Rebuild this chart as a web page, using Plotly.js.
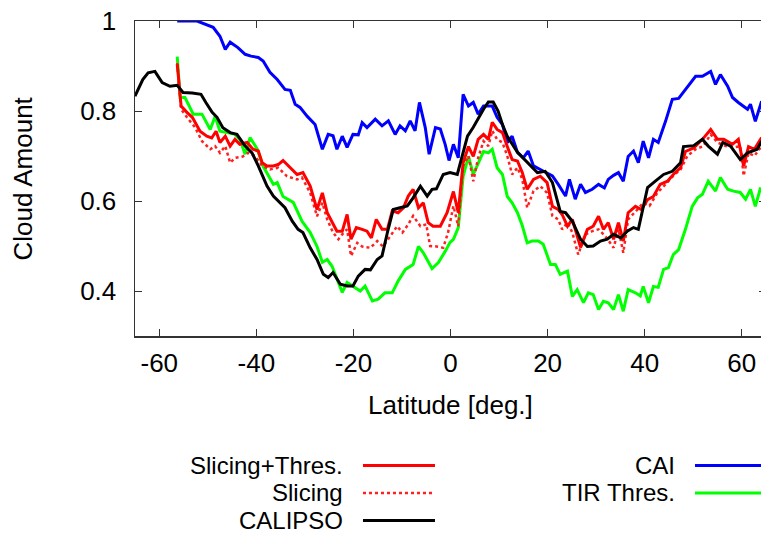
<!DOCTYPE html>
<html>
<head>
<meta charset="utf-8">
<script src="https://cdn.plot.ly/plotly-3.0.1.min.js"></script>
<style>
html, body { margin: 0; padding: 0; overflow: hidden; background: #fff; }
#chart { width: 780px; height: 536px; }
</style>
</head>
<body>
<div id="chart"></div>
<script>
// CALIPSO (black)
const calipsoLat = [-65, -63.4, -62.3, -60.9, -59.4, -57.8, -56.3, -55.1, -53.2, -51.4, -50.4, -49.1, -48.1, -46.9, -45.4, -44.0, -42.3, -40.9, -39.6, -37.8, -36.5, -35.5, -34.1, -32.6, -31.4, -30.4, -28.9, -27.5, -26.2, -25.2, -24.2, -22.7, -21.3, -20.1, -19.0, -17.6, -16.5, -15.1, -14.1, -13.0, -11.8, -10.4, -8.9, -7.7, -6.2, -4.8, -3.8, -2.9, -1.5, -0.1, 1.4, 3.5, 4.7, 6.8, 7.8, 8.8, 9.8, 10.7, 11.7, 13.8, 15.8, 17.9, 19.5, 21.0, 22.6, 23.7, 25.1, 26.8, 28.2, 29.4, 30.9, 32.3, 33.6, 35.1, 36.4, 37.7, 38.7, 40.6, 42.2, 43.9, 45.7, 47.4, 48.0, 50.1, 51.9, 53.1, 55.0, 56.1, 57.7, 59.7, 61.2, 63.2, 64.1];
const calipsoVal = [0.833, 0.870, 0.885, 0.888, 0.863, 0.855, 0.857, 0.841, 0.840, 0.837, 0.819, 0.797, 0.786, 0.763, 0.752, 0.748, 0.722, 0.707, 0.678, 0.633, 0.611, 0.600, 0.585, 0.555, 0.537, 0.530, 0.496, 0.470, 0.437, 0.430, 0.441, 0.415, 0.411, 0.411, 0.433, 0.448, 0.447, 0.470, 0.478, 0.530, 0.581, 0.585, 0.589, 0.607, 0.633, 0.611, 0.626, 0.627, 0.659, 0.663, 0.659, 0.744, 0.764, 0.804, 0.820, 0.820, 0.800, 0.770, 0.744, 0.708, 0.685, 0.663, 0.666, 0.641, 0.577, 0.574, 0.555, 0.515, 0.499, 0.500, 0.511, 0.515, 0.526, 0.518, 0.533, 0.541, 0.537, 0.630, 0.644, 0.659, 0.666, 0.685, 0.721, 0.723, 0.737, 0.722, 0.704, 0.730, 0.722, 0.692, 0.707, 0.715, 0.733];

// CAI (blue)
const caiLat = [-56.3, -52.2, -48.9, -47.5, -46.4, -45.4, -43.8, -42.3, -41.1, -39.6, -38.6, -37.2, -35.7, -34.1, -33.0, -32.0, -31.0, -29.5, -27.9, -26.4, -25.2, -24.2, -23.4, -22.3, -21.3, -20.1, -19.0, -18.2, -17.2, -15.5, -14.1, -12.8, -11.4, -10.4, -9.3, -8.3, -7.3, -6.4, -5.2, -4.4, -3.1, -2.1, -1.1, -0.3, 0.6, 1.6, 2.6, 3.7, 4.7, 5.7, 6.8, 8.6, 9.6, 10.7, 11.7, 12.7, 13.8, 15.0, 16.0, 17.1, 18.5, 19.9, 21.0, 22.2, 23.7, 24.5, 25.7, 26.8, 27.8, 29.2, 30.5, 31.7, 32.5, 33.6, 34.6, 35.6, 36.6, 37.7, 38.7, 39.7, 40.8, 41.8, 42.8, 44.3, 45.7, 47.0, 48.4, 50.5, 51.9, 53.6, 54.6, 55.6, 57.1, 58.1, 59.3, 61.2, 61.8, 62.8, 64.1];
const caiVal = [1.0, 1.0, 0.986, 0.966, 0.937, 0.953, 0.941, 0.926, 0.922, 0.919, 0.911, 0.886, 0.870, 0.848, 0.846, 0.815, 0.808, 0.788, 0.770, 0.715, 0.748, 0.745, 0.715, 0.744, 0.719, 0.748, 0.747, 0.774, 0.763, 0.782, 0.767, 0.778, 0.748, 0.767, 0.756, 0.778, 0.756, 0.819, 0.763, 0.704, 0.763, 0.760, 0.726, 0.690, 0.726, 0.696, 0.837, 0.811, 0.819, 0.793, 0.811, 0.811, 0.786, 0.770, 0.730, 0.744, 0.708, 0.696, 0.711, 0.678, 0.670, 0.663, 0.656, 0.637, 0.611, 0.648, 0.604, 0.637, 0.619, 0.626, 0.637, 0.629, 0.648, 0.657, 0.663, 0.644, 0.699, 0.711, 0.685, 0.733, 0.696, 0.737, 0.730, 0.777, 0.826, 0.828, 0.848, 0.877, 0.877, 0.888, 0.859, 0.881, 0.855, 0.830, 0.819, 0.804, 0.815, 0.777, 0.822];

// TIR Thres. (green)
const tirLat = [-56.3, -55.7, -54.7, -53.0, -51.2, -49.5, -48.5, -47.5, -46.0, -44.4, -43.4, -42.3, -41.3, -39.8, -38.6, -37.6, -36.5, -35.7, -34.5, -32.4, -30.6, -28.9, -27.5, -26.4, -25.4, -24.4, -23.4, -22.3, -21.3, -20.1, -18.6, -17.6, -16.1, -14.9, -13.5, -12.0, -10.8, -9.3, -7.7, -6.6, -5.6, -3.8, -2.5, -1.1, -0.1, 0.6, 1.6, 2.6, 3.7, 4.7, 5.7, 6.8, 7.8, 8.6, 9.6, 10.7, 11.7, 12.7, 13.8, 14.8, 15.8, 16.8, 18.1, 19.1, 20.6, 21.6, 22.6, 24.1, 25.1, 26.1, 27.4, 28.4, 29.4, 30.5, 31.5, 32.5, 33.6, 34.6, 35.6, 36.6, 38.1, 39.1, 39.7, 40.8, 41.8, 42.8, 43.9, 44.9, 45.9, 47.0, 48.4, 49.8, 50.9, 51.9, 53.1, 54.6, 55.6, 57.1, 58.3, 59.7, 60.8, 61.8, 62.8, 63.9];
const tirVal = [0.921, 0.830, 0.830, 0.793, 0.793, 0.759, 0.788, 0.755, 0.752, 0.748, 0.737, 0.704, 0.741, 0.715, 0.677, 0.659, 0.637, 0.641, 0.610, 0.597, 0.555, 0.530, 0.499, 0.464, 0.470, 0.455, 0.426, 0.397, 0.419, 0.411, 0.400, 0.411, 0.378, 0.382, 0.396, 0.396, 0.422, 0.448, 0.459, 0.499, 0.485, 0.450, 0.463, 0.488, 0.508, 0.515, 0.541, 0.655, 0.699, 0.659, 0.685, 0.710, 0.707, 0.715, 0.674, 0.659, 0.610, 0.596, 0.574, 0.545, 0.507, 0.511, 0.511, 0.504, 0.459, 0.459, 0.437, 0.444, 0.388, 0.403, 0.374, 0.396, 0.392, 0.359, 0.377, 0.374, 0.359, 0.392, 0.355, 0.403, 0.396, 0.389, 0.410, 0.374, 0.410, 0.408, 0.448, 0.452, 0.481, 0.492, 0.537, 0.588, 0.607, 0.615, 0.644, 0.622, 0.652, 0.626, 0.622, 0.619, 0.604, 0.626, 0.588, 0.630];

// Slicing+Thres. (red solid)
const sltLat = [-56.3, -55.5, -54.3, -53.2, -51.6, -50.2, -49.2, -48.3, -47.5, -46.4, -45.4, -44.4, -43.4, -41.9, -40.7, -39.6, -38.8, -37.8, -36.5, -35.5, -34.5, -33.0, -31.6, -30.4, -28.9, -27.5, -26.4, -25.4, -24.4, -23.4, -22.3, -21.3, -20.5, -19.4, -18.2, -17.2, -16.3, -15.3, -14.1, -13.0, -12.0, -10.8, -9.7, -8.7, -7.7, -6.6, -5.6, -4.6, -3.6, -2.1, -0.7, 0.6, 1.6, 2.6, 3.7, 4.7, 5.7, 6.8, 7.8, 8.6, 9.6, 10.7, 11.7, 12.7, 13.8, 14.8, 15.8, 17.1, 18.5, 19.9, 21.0, 22.2, 23.0, 24.1, 25.1, 26.1, 26.8, 28.2, 29.4, 30.5, 31.5, 32.5, 33.6, 34.6, 35.6, 36.6, 38.1, 39.3, 40.6, 41.8, 43.2, 44.7, 45.9, 47.4, 48.4, 50.1, 51.9, 53.6, 55.0, 56.3, 58.1, 59.3, 60.4, 61.4, 62.6, 64.1];
const sltVal = [0.904, 0.811, 0.797, 0.786, 0.755, 0.744, 0.740, 0.755, 0.730, 0.744, 0.722, 0.737, 0.726, 0.730, 0.715, 0.711, 0.685, 0.678, 0.678, 0.681, 0.690, 0.674, 0.659, 0.663, 0.633, 0.581, 0.618, 0.574, 0.552, 0.533, 0.533, 0.570, 0.515, 0.541, 0.537, 0.533, 0.518, 0.559, 0.537, 0.537, 0.578, 0.574, 0.585, 0.611, 0.626, 0.585, 0.596, 0.552, 0.544, 0.544, 0.574, 0.621, 0.574, 0.685, 0.721, 0.699, 0.737, 0.748, 0.737, 0.775, 0.759, 0.752, 0.721, 0.692, 0.689, 0.663, 0.626, 0.648, 0.655, 0.641, 0.588, 0.581, 0.570, 0.544, 0.559, 0.522, 0.497, 0.537, 0.544, 0.566, 0.537, 0.552, 0.515, 0.552, 0.511, 0.574, 0.588, 0.581, 0.603, 0.610, 0.637, 0.644, 0.659, 0.674, 0.710, 0.718, 0.737, 0.759, 0.737, 0.737, 0.726, 0.737, 0.678, 0.721, 0.715, 0.741];

// Slicing (red dotted)
const slLat = [-56.3, -55.5, -54.3, -52.6, -51.2, -49.5, -48.5, -47.5, -46.4, -45.4, -44.4, -42.8, -41.7, -40.3, -38.8, -37.2, -35.5, -33.7, -31.6, -30.6, -28.9, -27.5, -26.4, -25.4, -24.2, -23.1, -22.3, -21.3, -20.5, -19.2, -18.2, -16.5, -15.1, -13.9, -12.4, -11.0, -9.9, -8.7, -7.7, -6.2, -5.0, -4.2, -2.9, -1.5, -0.5, 0.6, 1.6, 2.6, 3.7, 4.7, 5.7, 6.8, 7.8, 8.6, 9.6, 10.7, 11.7, 12.7, 13.8, 14.8, 15.8, 17.1, 18.5, 19.9, 21.0, 22.2, 23.0, 24.1, 25.1, 26.3, 27.8, 29.2, 30.5, 31.9, 33.6, 34.6, 35.6, 36.6, 38.5, 39.7, 41.0, 42.6, 44.3, 45.9, 47.4, 48.8, 50.5, 52.1, 53.6, 55.0, 56.7, 58.3, 59.7, 60.4, 61.4, 62.6, 64.1];
const slVal = [0.907, 0.804, 0.786, 0.763, 0.733, 0.715, 0.722, 0.707, 0.722, 0.685, 0.696, 0.699, 0.707, 0.700, 0.678, 0.670, 0.674, 0.655, 0.648, 0.652, 0.618, 0.566, 0.596, 0.559, 0.530, 0.515, 0.526, 0.537, 0.478, 0.507, 0.499, 0.496, 0.511, 0.499, 0.522, 0.544, 0.530, 0.548, 0.567, 0.544, 0.548, 0.500, 0.499, 0.496, 0.530, 0.589, 0.544, 0.678, 0.700, 0.644, 0.696, 0.733, 0.722, 0.756, 0.737, 0.730, 0.700, 0.659, 0.674, 0.648, 0.585, 0.622, 0.633, 0.618, 0.567, 0.559, 0.537, 0.552, 0.530, 0.481, 0.526, 0.533, 0.537, 0.522, 0.496, 0.537, 0.485, 0.559, 0.581, 0.596, 0.589, 0.618, 0.637, 0.656, 0.670, 0.700, 0.715, 0.722, 0.748, 0.730, 0.722, 0.719, 0.722, 0.656, 0.707, 0.700, 0.722];

const xTicks = [-60, -40, -20, 0, 20, 40, 60];
const xTickText = ['-60', '-40', '-20', '0', '20', '40', '60'];
const yTicks = [0.4, 0.6, 0.8, 1];
const yTickText = ['0.4', '0.6', '0.8', '1'];

const series = [
  {name: 'Slicing+Thres.', x: sltLat, y: sltVal, color: '#ff0000', dash: 'solid', width: 3},
  {name: 'Slicing', x: slLat, y: slVal, color: '#ff2020', dash: 'dot', width: 2.5},
  {name: 'CALIPSO', x: calipsoLat, y: calipsoVal, color: '#000000', dash: 'solid', width: 3},
  {name: 'CAI', x: caiLat, y: caiVal, color: '#0000ff', dash: 'solid', width: 3},
  {name: 'TIR Thres.', x: tirLat, y: tirVal, color: '#00ff00', dash: 'solid', width: 3}
];
const drawOrder = ['CAI', 'TIR Thres.', 'Slicing', 'Slicing+Thres.', 'CALIPSO'];

const traces = drawOrder.map(n => {
  const s = series.find(t => t.name === n);
  return {x: s.x, y: s.y, type: 'scatter', mode: 'lines', name: s.name,
          line: {color: s.color, width: s.width, dash: s.dash}, showlegend: false};
});

const FONT = 'Liberation Sans, Arial, sans-serif';
const FS = 26;
const LFS = 24;
// legend (text right-aligned, sample line after the text)
const legendRows = [
  {name: 'Slicing+Thres.', col: 0, row: 0},
  {name: 'Slicing', col: 0, row: 1},
  {name: 'CALIPSO', col: 0, row: 2},
  {name: 'CAI', col: 1, row: 0},
  {name: 'TIR Thres.', col: 1, row: 1}
];
const colTextX = [0.333, 0.859];
const colLineX = [[0.3613, 0.4754], [0.8875, 1.02]];
const rowY = [-0.4111, -0.4984, -0.5857];
const annotations = [];
const shapes = [];
legendRows.forEach(r => {
  const s = series.find(t => t.name === r.name);
  annotations.push({xref: 'paper', yref: 'paper', x: colTextX[r.col], y: rowY[r.row],
    xanchor: 'right', yanchor: 'middle', text: r.name, showarrow: false,
    font: {family: FONT, size: LFS, color: '#000'}});
  shapes.push({type: 'line', xref: 'paper', yref: 'paper',
    x0: colLineX[r.col][0], x1: colLineX[r.col][1], y0: rowY[r.row], y1: rowY[r.row],
    line: {color: s.color, width: s.width, dash: s.dash}});
});
annotations.push({xref: 'paper', yref: 'paper', x: 0.5, y: -0.219, xanchor: 'center', yanchor: 'middle',
  text: 'Latitude [deg.]', showarrow: false, font: {family: FONT, size: FS, color: '#000'}});
annotations.push({xref: 'paper', yref: 'paper', x: -0.1775, y: 0.5, xanchor: 'center', yanchor: 'middle',
  text: 'Cloud Amount', textangle: -90, showarrow: false, font: {family: FONT, size: FS, color: '#000'}});

const layout = {
  width: 780, height: 536,
  margin: {l: 135, r: 14, t: 21, b: 200},
  paper_bgcolor: '#fff', plot_bgcolor: '#fff',
  font: {family: FONT, size: FS, color: '#000'},
  xaxis: {range: [-65, 65], tickvals: xTicks, ticktext: xTickText, ticks: 'inside', ticklen: 7, tickwidth: 1,
          tickcolor: '#333', showline: true, linecolor: '#333', linewidth: 1.5, mirror: 'allticks',
          showgrid: false, zeroline: false, ticklabelstandoff: 3,
          tickfont: {family: FONT, size: FS, color: '#000'}},
  yaxis: {range: [0.3, 1.0], tickvals: yTicks, ticktext: yTickText, ticks: 'inside', ticklen: 7, tickwidth: 1,
          tickcolor: '#333', showline: true, linecolor: '#333', linewidth: 1.5, mirror: 'allticks',
          showgrid: false, zeroline: false, ticklabelstandoff: 12,
          tickfont: {family: FONT, size: FS, color: '#000'}},
  annotations: annotations,
  shapes: shapes
};

Plotly.newPlot('chart', traces, layout, {staticPlot: true, displayModeBar: false});
</script>
</body>
</html>
